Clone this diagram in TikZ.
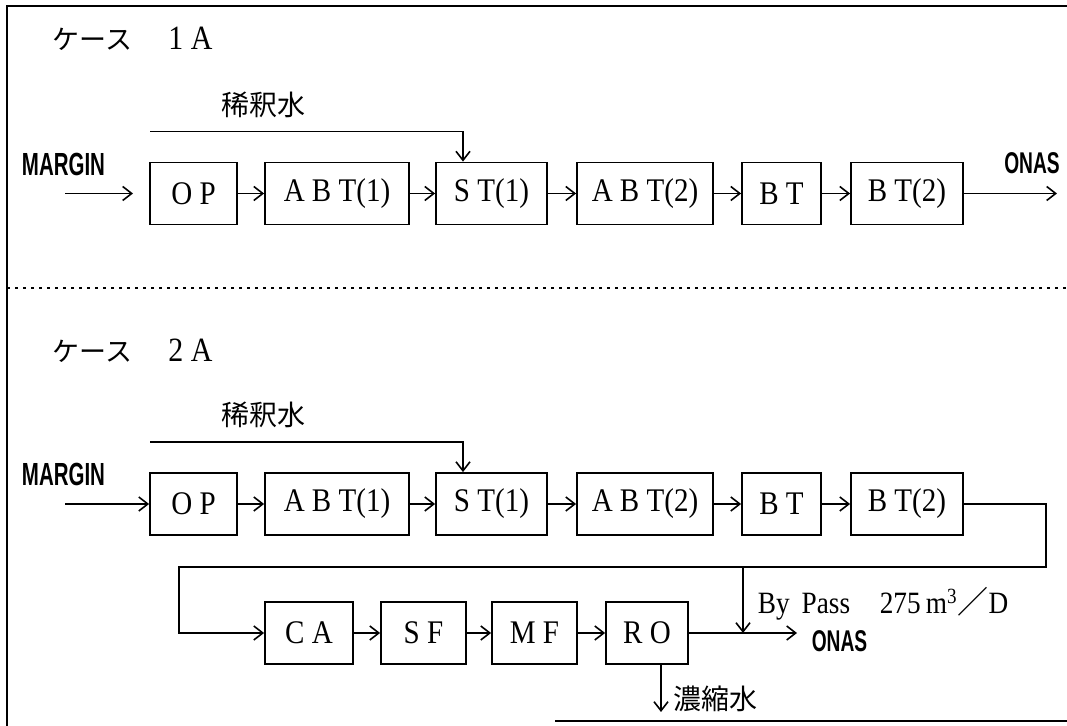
\documentclass[tikz,border=0pt]{standalone}
\usepackage{fontspec}
\usepackage{tikz}
\usetikzlibrary{arrows.meta}
\newfontfamily\jpfont{Noto Sans CJK JP}
\newfontfamily\condfont{Liberation Sans}[FakeStretch=0.64]
\newfontfamily\boxfont{Liberation Serif}[FakeStretch=0.88]

\begin{document}
\begin{tikzpicture}[x=0.5pt,y=-0.5pt,line width=0.8pt,
  flow/.style={-{Straight Barb[length=4.5pt,width=7pt]}},
  unit/.style={draw, line width=0.9pt, minimum height=31pt, inner sep=0pt,
               font=\boxfont\fontsize{16.5}{18}\selectfont},
  jplabel/.style={inner sep=0pt, font=\jpfont\fontsize{14}{16}\selectfont},
  tag/.style={inner sep=0pt, font=\condfont\bfseries\fontsize{16}{18}\selectfont},
  heading/.style={anchor=west, inner sep=0pt, font=\boxfont\fontsize{17}{19}\selectfont}]
  \useasboundingbox (0,0) rectangle (1067,726);

  % ----- FRAME -----
  \draw[line width=1pt] (1067,6) -- (7,6) -- (7,726);
  \draw (555,721) -- (1067,721);
  \draw[line width=0.7pt, dash pattern=on 1.5pt off 2.5pt] (7,288) -- (1067,288);

  \node[heading] (case1) at (52,39) {{\jpfont\fontsize{13.5}{15}\selectfont ケース}\hspace{18pt}1 A};
  \node[heading] (case2) at (52,351) {{\jpfont\fontsize{13.5}{15}\selectfont ケース}\hspace{18pt}2 A};

  % ----- MAIN LINE (both cases) -----
  \foreach \r/\y in {1/193.5,2/504} {%
    \node[unit, minimum width=43.5pt] (op\r)   at (193.5,\y) {O P};
    \node[unit, minimum width=72pt]   (abt\r)  at (337,\y)   {A B T(1)};
    \node[unit, minimum width=55.5pt] (st\r)   at (491.5,\y) {S T(1)};
    \node[unit, minimum width=68pt]   (abtt\r) at (645,\y)   {A B T(2)};
    \node[unit, minimum width=39.5pt] (bt\r)   at (781.5,\y) {B T};
    \node[unit, minimum width=56pt]   (btt\r)  at (907,\y)   {B T(2)};
    \draw[flow] (op\r) -- (abt\r);
    \draw[flow] (abt\r) -- (st\r);
    \draw[flow] (st\r) -- (abtt\r);
    \draw[flow] (abtt\r) -- (bt\r);
    \draw[flow] (bt\r) -- (btt\r);
    % dilution water
    \coordinate (dil\r) at (150,\y-62);
    \node[jplabel] (dillabel\r) at (263,\y-89) {稀釈水};
    \draw[flow] (dil\r) -| ([xshift=-14.25pt]st\r.north);
    \node[tag] (margin\r) at (63.5,\y-29.5) {MARGIN};
  }

  % case 1A in / out
  \coordinate (in1) at (65,193.5);
  \coordinate (in1e) at (133,193.5);
  \draw[flow] (in1) -- (in1e);
  \coordinate (out1) at (1057,193.5);
  \draw[flow] (btt1.east) -- (out1);
  \node[tag, font=\condfont\bfseries\fontsize{15}{17}\selectfont] (onas1) at (1032,163) {ONAS};

  % case 2A in
  \coordinate (in2) at (65,504);
  \draw[flow] (in2) -- (op2);

  % ----- TREATMENT LINE (case 2A) -----
  \node[unit, minimum width=44pt]   (ca) at (309,633)   {C A};
  \node[unit, minimum width=42.5pt] (sf) at (423.5,633) {S F};
  \node[unit, minimum width=42.5pt] (mf) at (534.5,633) {M F};
  \node[unit, minimum width=41pt]   (ro) at (647,633)   {R O};
  \draw[flow] (ca) -- (sf);
  \draw[flow] (sf) -- (mf);
  \draw[flow] (mf) -- (ro);

  \coordinate (loopR) at (1046,567);
  \coordinate (loopL) at (179,567);
  \draw[flow] (btt2.east) -| (loopR) -- (loopL) |- (ca.west);

  % by pass and outlet
  \coordinate (bypass) at (743,567);
  \draw[flow] (bypass) -- (bypass |- ro.east);
  \coordinate (out2) at (797,633);
  \draw[flow] (ro.east) -- (out2);
  \node[tag, anchor=west, font=\condfont\bfseries\fontsize{15}{17}\selectfont] (onas2) at (811,641) {ONAS};
  \node[anchor=base west, inner sep=0pt, font=\boxfont\fontsize{15.5}{17}\selectfont] (bplabel) at (757,614) {By\hspace{6pt}Pass};
  \node[anchor=base west, inner sep=0pt, font=\boxfont\fontsize{15.5}{17}\selectfont] (rate) at (879,614) {275\,m\textsuperscript{3}{\jpfont ／}D};

  % concentrate
  \coordinate (conc) at (661,712);
  \draw[flow] (conc |- ro.south) -- (conc);
  \node[jplabel, anchor=west] (conclabel) at (673,699) {濃縮水};
\end{tikzpicture}
\end{document}
